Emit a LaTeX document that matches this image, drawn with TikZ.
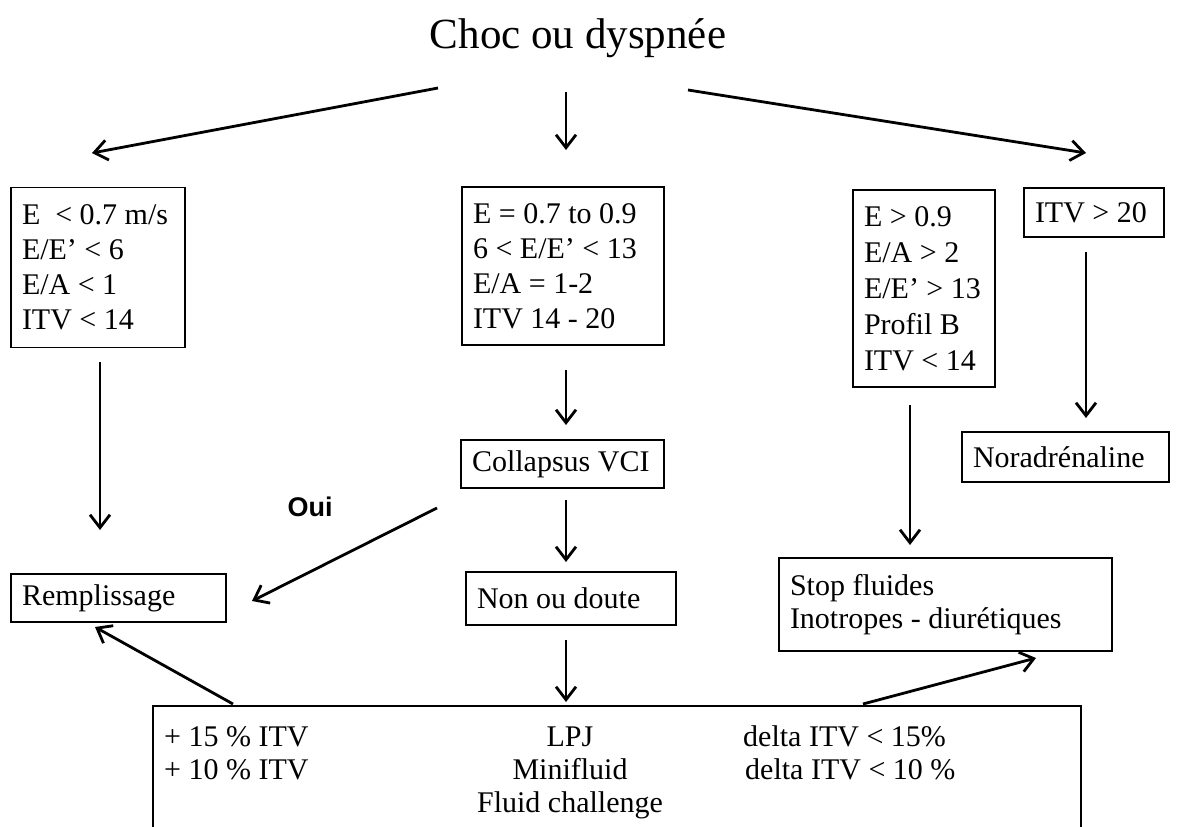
\documentclass[tikz,border=0pt]{standalone}
\usepackage{fontspec}
\setmainfont{Liberation Serif}
\newfontfamily\arialfont{Liberation Sans}
\usetikzlibrary{arrows.meta}
\tikzset{
  box/.style={draw, line width=1.8pt, inner xsep=11pt, inner ysep=0pt, align=flush left,
    font=\fontsize{30}{35}\selectfont, anchor=center},
  arr/.style={line width=2.8pt, -{Straight Barb[length=13pt,width=20pt]}},
  txt/.style={font=\fontsize{30}{34}\selectfont, inner sep=0pt}
}
\begin{document}
\begin{tikzpicture}[x=1pt,y=-1pt]
\useasboundingbox (0,0) rectangle (1179,827);
\clip (0,0) rectangle (1179,827);
% title
\node[font=\fontsize{43}{48}\selectfont, inner sep=0pt, anchor=base] (title) at (578,48) {Choc ou dyspnée};
% boxes
\node[box, text width=152pt, minimum height=160pt] (b1) at (98,267.5) {E \ {<} 0.7 m/s\\E/E’ {<} 6\\E/A {<} 1\\ITV {<} 14};
\node[box, text width=180pt, minimum height=158pt] (b2) at (563,266) {E = 0.7 to 0.9\\6 {<} E/E’ {<} 13\\E/A = 1-2\\ITV 14 - 20};
\node[box, text width=120pt, minimum height=197pt, font=\fontsize{30}{36}\selectfont] (b3) at (924,288.5) {E {>} 0.9\\E/A {>} 2\\E/E’ {>} 13\\Profil B\\ITV {<} 14};
\node[box, text width=118pt, minimum height=49pt] (b4) at (1094,212.5) {ITV {>} 20};
\node[box, text width=185pt, minimum height=50pt] (nor) at (1065.5,457) {Noradrénaline};
\node[box, text width=181pt, minimum height=48pt] (col) at (562.5,464) {Collapsus VCI};
\node[box, text width=188pt, minimum height=53pt] (non) at (571,598.5) {Non ou doute};
\node[box, text width=193pt, minimum height=48pt] (rem) at (118.5,598) {Remplissage};
\node[box, text width=311pt, minimum height=93pt, font=\fontsize{30}{33}\selectfont] (stop) at (945.5,604.5) {Stop fluides\\Inotropes - diurétiques};
\node[draw, line width=1.8pt, minimum width=928pt, minimum height=200pt, anchor=north west, inner sep=0pt] (bot) at (152,705) {};
% bottom box text
\node[txt, anchor=base west] (l1) at (164,746) {+ 15 \% ITV};
\node[txt, anchor=base west] (l2) at (164,779) {+ 10 \% ITV};
\node[txt, anchor=base] (m1) at (570,746) {LPJ};
\node[txt, anchor=base] (m2) at (570,779) {Minifluid};
\node[txt, anchor=base] (m3) at (570,812) {Fluid challenge};
\node[txt, anchor=base west] (r1) at (743,746) {delta ITV {<} 15\%};
\node[txt, anchor=base west] (r2) at (745,779) {delta ITV {<} 10 \%};
% Oui label
\node[font=\arialfont\bfseries\fontsize{27}{30}\selectfont, inner sep=0pt] (oui) at (310,507) {Oui};
% coordinates for free ends
\coordinate (t1s) at (438,88);  \coordinate (t1e) at (92,153);
\coordinate (t2s) at (566,92);  \coordinate (t2e) at (566,150);
\coordinate (t3s) at (688,90);  \coordinate (t3e) at (1086,153);
\coordinate (b1s) at (100,362); \coordinate (b1e) at (100,530);
\coordinate (b2s) at (566,370); \coordinate (b2e) at (566,425);
\coordinate (b3s) at (910,405); \coordinate (b3e) at (910,545);
\coordinate (b4s) at (1086,252); \coordinate (b4e) at (1086,418);
\coordinate (cs) at (566,500); \coordinate (ce) at (566,562);
\coordinate (os) at (437,508); \coordinate (oe) at (252,601);
\coordinate (ns) at (566,640); \coordinate (ne) at (566,702);
\coordinate (ls) at (233,704); \coordinate (le) at (95,627);
\coordinate (rs) at (863,704); \coordinate (re) at (1036,658);
% arrows
\draw[arr] (t1s) -- (t1e);
\draw[arr] (t2s) -- (t2e);
\draw[arr] (t3s) -- (t3e);
\draw[arr] (b1s) -- (b1e);
\draw[arr] (b2s) -- (b2e);
\draw[arr] (b3s) -- (b3e);
\draw[arr] (b4s) -- (b4e);
\draw[arr] (cs) -- (ce);
\draw[arr] (os) -- (oe);
\draw[arr] (ns) -- (ne);
\draw[arr] (ls) -- (le);
\draw[arr] (rs) -- (re);
\end{tikzpicture}
\end{document}
